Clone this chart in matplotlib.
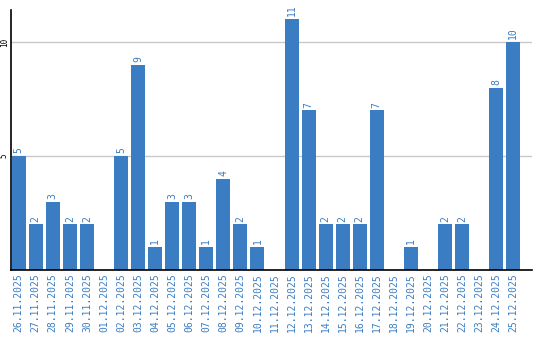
import matplotlib
matplotlib.use("Agg")
import matplotlib.pyplot as plt
import numpy as np

dates = ["26.11.2025", "27.11.2025", "28.11.2025", "29.11.2025", "30.11.2025",
         "01.12.2025", "02.12.2025", "03.12.2025", "04.12.2025", "05.12.2025",
         "06.12.2025", "07.12.2025", "08.12.2025", "09.12.2025", "10.12.2025",
         "11.12.2025", "12.12.2025", "13.12.2025", "14.12.2025", "15.12.2025",
         "16.12.2025", "17.12.2025", "18.12.2025", "19.12.2025", "20.12.2025",
         "21.12.2025", "22.12.2025", "23.12.2025", "24.12.2025", "25.12.2025"]
counts = [5, 2, 3, 2, 2, 0, 5, 9, 1, 3, 3, 1, 4, 2, 1,
          0, 11, 7, 2, 2, 2, 7, 0, 1, 0, 2, 2, 0, 8, 10]

blue = "#3b7dc3"

fig = plt.figure(figsize=(5.4, 3.4), dpi=100)
ax = fig.add_axes([11/540, 70/340, 521/540, 260/340])

x = np.arange(len(dates))
ax.bar(x, counts, width=0.82, color=blue, zorder=2)

# value labels above bars (skip zeros)
for xi, v in zip(x, counts):
    if v > 0:
        ax.text(xi, v + 0.12, str(v), rotation=90, ha="center", va="bottom",
                color=blue, fontsize=7, family="DejaVu Sans Mono")

ax.set_xlim(-0.45, 30.1)
ax.set_ylim(0, 11.4)
ax.set_xticks(x)
ax.set_xticklabels(dates, rotation=90, color=blue, fontsize=7,
                   family="DejaVu Sans Mono")
ax.set_yticks([5, 10])
ax.set_yticklabels(["5", "10"], rotation=90, va="center", fontsize=5.5,
                   family="DejaVu Sans Mono")
ax.tick_params(axis="y", length=0, pad=1.5)
ax.tick_params(axis="x", length=0, pad=2)
ax.yaxis.grid(True, color="#c8c8c8", linewidth=1, zorder=0)

for s in ["top", "right"]:
    ax.spines[s].set_visible(False)
ax.spines["left"].set_linewidth(1.2)
ax.spines["bottom"].set_linewidth(1.2)

fig.savefig("out.png", dpi=100)
